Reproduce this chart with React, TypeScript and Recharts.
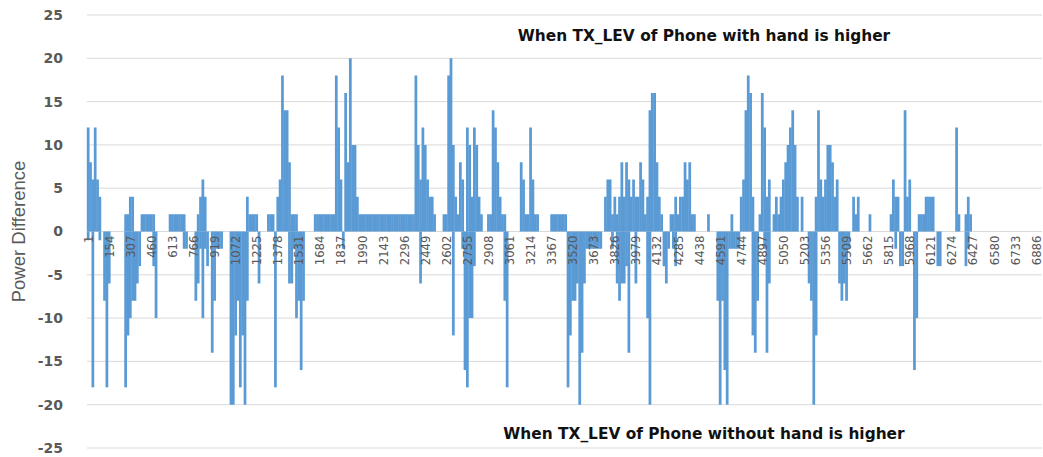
import React from 'react';
import { BarChart, Bar, XAxis, YAxis, CartesianGrid, Rectangle } from 'recharts';

// Each bin covers 17 consecutive samples (bin i starts at sample 1 + 17*i)
const BIN_SIZE = 17;

// Largest positive difference within each bin
const posValues: number[] = [
  12, 8, 6, 12, 6, 4, 0, 0, 0, 0, 0, 0, 0, 0, 0, 0, 2, 2,
  4, 4, 0, 0, 0, 2, 2, 2, 2, 2, 2, 0, 0, 0, 0, 0, 0, 2,
  2, 2, 2, 2, 2, 2, 0, 0, 0, 0, 0, 2, 4, 6, 4, 0, 0, 0,
  0, 0, 0, 0, 0, 0, 0, 0, 0, 0, 0, 0, 0, 0, 4, 2, 2, 2,
  2, 0, 0, 0, 0, 2, 2, 2, 0, 4, 6, 18, 14, 14, 8, 2, 2, 2,
  0, 0, 0, 0, 0, 0, 0, 2, 2, 2, 2, 2, 2, 2, 2, 2, 18, 12,
  6, 0, 16, 8, 20, 10, 10, 4, 2, 2, 2, 2, 2, 2, 2, 2, 2, 2,
  2, 2, 2, 2, 2, 2, 2, 2, 2, 2, 2, 2, 2, 2, 18, 10, 6, 12,
  10, 6, 4, 4, 2, 0, 0, 0, 2, 2, 18, 20, 10, 4, 2, 8, 6, 0,
  12, 10, 4, 12, 10, 4, 2, 0, 0, 2, 2, 14, 12, 8, 4, 2, 2, 0,
  0, 0, 0, 0, 0, 8, 6, 2, 2, 12, 6, 2, 2, 0, 0, 0, 0, 0,
  2, 2, 2, 2, 2, 2, 2, 0, 0, 0, 0, 0, 0, 0, 0, 0, 0, 0,
  0, 0, 0, 0, 0, 4, 6, 6, 2, 4, 2, 4, 8, 4, 8, 6, 4, 6,
  4, 4, 8, 6, 2, 4, 14, 16, 16, 8, 4, 2, 0, 0, 0, 2, 2, 4,
  2, 4, 4, 8, 6, 8, 2, 2, 0, 0, 0, 0, 0, 2, 0, 0, 0, 0,
  0, 0, 0, 0, 0, 2, 0, 0, 0, 4, 6, 14, 18, 16, 4, 0, 0, 2,
  16, 12, 4, 6, 0, 2, 4, 2, 4, 6, 8, 10, 12, 14, 10, 4, 0, 4,
  0, 0, 0, 0, 0, 4, 14, 6, 4, 6, 10, 10, 8, 4, 6, 0, 0, 0,
  0, 0, 0, 4, 2, 4, 0, 0, 0, 0, 2, 0, 0, 0, 0, 0, 0, 0,
  0, 2, 6, 4, 4, 0, 0, 14, 4, 6, 0, 0, 0, 2, 2, 2, 4, 4,
  4, 4, 0, 0, 0, 0, 0, 0, 0, 0, 0, 12, 2, 0, 0, 2, 4, 2,
  0, 0, 0, 0, 0, 0, 0, 0, 0, 0, 0, 0, 0, 0, 0, 0, 0, 0,
  0, 0, 0, 0, 0, 0, 0, 0, 0, 0, 0, 0,
];

// Largest negative difference within each bin
const negValues: number[] = [
  -1, 0, -18, 0, 0, -1, 0, -8, -18, -6, 0, 0, 0, 0, 0, 0, -18, -12,
  -10, -8, -8, -6, -4, 0, 0, 0, 0, 0, -4, -10, 0, 0, 0, 0, 0, 0,
  0, 0, 0, 0, 0, -2, -2, 0, 0, 0, -8, -6, -2, -10, -2, -4, 0, -14,
  -8, -2, -2, -2, 0, 0, 0, -20, -20, -12, -8, -18, -12, -20, -8, 0, 0, 0,
  0, -6, 0, 0, 0, 0, 0, 0, -18, 0, 0, 0, 0, 0, -6, -6, -2, -10,
  -8, -16, -8, 0, 0, 0, 0, 0, 0, 0, 0, 0, 0, 0, 0, 0, 0, 0,
  0, -2, 0, 0, 0, 0, 0, 0, 0, 0, 0, 0, 0, 0, 0, 0, 0, 0,
  0, 0, 0, 0, 0, 0, 0, 0, 0, 0, 0, 0, 0, 0, 0, 0, -6, 0,
  0, 0, 0, 0, 0, 0, 0, 0, 0, 0, 0, 0, -12, 0, 0, 0, -2, -16,
  -18, -10, -10, -4, 0, 0, 0, 0, 0, 0, 0, 0, 0, 0, 0, 0, -8, -18,
  0, 0, 0, 0, 0, 0, 0, 0, 0, 0, 0, 0, 0, 0, 0, 0, 0, 0,
  0, 0, 0, 0, 0, 0, 0, -18, -12, -8, -8, -6, -20, -14, -6, -2, -2, -2,
  -2, -2, -2, -2, 0, 0, 0, 0, -2, 0, -6, -8, -6, -6, -4, -14, 0, 0,
  -6, 0, 0, 0, 0, -10, -20, 0, 0, 0, 0, 0, -4, -6, -2, 0, -2, -4,
  0, 0, 0, 0, 0, 0, 0, 0, 0, 0, 0, 0, 0, 0, 0, 0, 0, -8,
  -20, -8, -16, -20, -2, -2, -2, -2, -2, 0, 0, 0, 0, 0, -12, -14, -8, 0,
  0, -2, -14, -6, 0, 0, 0, 0, 0, 0, 0, 0, 0, 0, 0, 0, 0, 0,
  0, 0, -6, -8, -20, -12, 0, 0, 0, 0, 0, 0, 0, 0, 0, -6, -8, -6,
  -8, -2, 0, 0, 0, 0, 0, 0, 0, 0, 0, 0, 0, 0, 0, 0, 0, 0,
  0, 0, 0, -2, 0, -4, -4, 0, 0, 0, 0, -16, -10, 0, 0, 0, 0, 0,
  0, 0, 0, -4, -4, 0, 0, 0, 0, 0, 0, 0, 0, 0, 0, -4, -2, 0,
  0, 0, 0, 0, 0, 0, 0, 0, 0, 0, 0, 0, 0, 0, 0, 0, 0, 0,
  0, 0, 0, 0, 0, 0, 0, 0, 0, 0, 0, 0,
];

// Sample numbers shown on the category axis (every 9th bin)
const xTickLabels: number[] = [
  1, 154, 307, 460, 613, 766, 919, 1072, 1225, 1378, 1531, 1684, 1837, 1990, 2143, 2296,
  2449, 2602, 2755, 2908, 3061, 3214, 3367, 3520, 3673, 3826, 3979, 4132, 4285, 4438,
  4591, 4744, 4897, 5050, 5203, 5356, 5509, 5662, 5815, 5968, 6121, 6274, 6427, 6580,
  6733, 6886,
];
const X_TICK_INTERVAL = (xTickLabels[1] - xTickLabels[0]) / BIN_SIZE - 1;

const yTicks: number[] = [-25, -20, -15, -10, -5, 0, 5, 10, 15, 20, 25];
const Y_MIN = -25;
const Y_MAX = 25;

const yTitle = 'Power Difference';
const topNote = 'When TX_LEV of Phone with hand is higher';
const bottomNote = 'When TX_LEV of Phone without hand is higher';

const data = posValues.map((p, i) => ({
  sample: 1 + i * BIN_SIZE,
  pos: p,
  neg: negValues[i],
}));

const W = 1043;
const H = 457;
const MARGIN = { top: 15, right: 1, bottom: 8, left: 0 };
const X_AXIS_H = 1;
const Y_AXIS_W = 87;
const PLOT_H = H - MARGIN.top - MARGIN.bottom - X_AXIS_H;
const ZERO_Y = MARGIN.top + (PLOT_H * Y_MAX) / (Y_MAX - Y_MIN);

const BAR_COLOR = '#5b9bd5';

// Slightly widen each column so neighbouring columns join without seams (like Excel's 0 gap)
const SolidBar = (props: any) => {
  const { x, width } = props;
  if (!props.height) return null;
  return <Rectangle {...props} x={x - 0.2} width={width + 0.75} />;
};

const XTick = (props: any) => {
  const { x, payload } = props;
  const y0 = ZERO_Y + 4;
  return (
    <g>
      <text
        x={x}
        y={y0}
        transform={`rotate(-90 ${x} ${y0})`}
        textAnchor="end"
        dominantBaseline="central"
        fill="#595959"
        fontSize={13}
        fontFamily="'Liberation Sans Narrow', 'DejaVu Sans Condensed', 'Liberation Sans', sans-serif"
      >
        {payload.value}
      </text>
    </g>
  );
};

export default function App() {
  return (
    <div style={{ position: 'absolute', left: 0, top: 0, width: W, height: H, background: '#fff' }}>
      <BarChart
        width={W}
        height={H}
        data={data}
        margin={MARGIN}
        barCategoryGap={0}
        barGap={0}
        stackOffset="sign"
      >
        <CartesianGrid vertical={false} stroke="#d9d9d9" />
        <YAxis
          type="number"
          domain={[Y_MIN, Y_MAX]}
          ticks={yTicks}
          allowDataOverflow
          width={Y_AXIS_W}
          axisLine={false}
          tickLine={false}
          tickSize={0}
          tickMargin={24}
          tick={{ fill: '#595959', fontSize: 14, fontWeight: 'bold', fontFamily: "'DejaVu Sans', sans-serif" }}
        />
        <Bar dataKey="pos" stackId="s" fill={BAR_COLOR} shape={<SolidBar />} isAnimationActive={false} />
        <Bar dataKey="neg" stackId="s" fill={BAR_COLOR} shape={<SolidBar />} isAnimationActive={false} />
        <XAxis
          dataKey="sample"
          interval={X_TICK_INTERVAL}
          tick={<XTick />}
          axisLine={false}
          tickLine={false}
          height={X_AXIS_H}
        />
      </BarChart>
      <svg
        width={W}
        height={H}
        style={{ position: 'absolute', left: 0, top: 0, pointerEvents: 'none' }}
      >
        <text
          x={18}
          y={ZERO_Y}
          transform={`rotate(-90 18 ${ZERO_Y})`}
          textAnchor="middle"
          dominantBaseline="central"
          fill="#595959"
          fontSize={18.5}
          fontFamily="'Liberation Sans', sans-serif"
        >
          {yTitle}
        </text>
        <text
          x={704}
          y={41}
          textAnchor="middle"
          fill="#111"
          fontSize={15.4}
          fontWeight="bold"
          fontFamily="'DejaVu Sans', sans-serif"
        >
          {topNote}
        </text>
        <text
          x={704}
          y={439}
          textAnchor="middle"
          fill="#111"
          fontSize={15.4}
          fontWeight="bold"
          fontFamily="'DejaVu Sans', sans-serif"
        >
          {bottomNote}
        </text>
      </svg>
    </div>
  );
}
